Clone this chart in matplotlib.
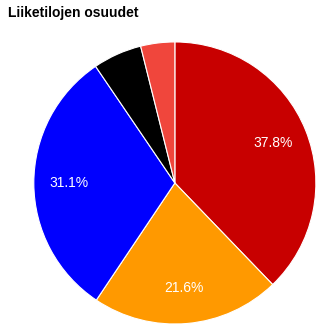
import matplotlib
matplotlib.use('Agg')
import matplotlib.pyplot as plt

labels = ['A', 'B', 'C', 'D', 'E']
values = [37.8, 21.6, 31.1, 5.6, 3.9]
colors = ['#c80000', '#ff9900', '#0000ff', '#000000', '#f0463c']

plt.rcParams['font.family'] = ['Liberation Sans', 'DejaVu Sans']

fig = plt.figure(figsize=(3.25, 3.33), dpi=100)
ax = fig.add_axes([0.104, 0.027, 0.868, 0.847])

def fmt(p):
    return '%.1f%%' % p if p > 8 else ''

ax.pie(values, colors=colors, startangle=90, counterclock=False,
       autopct=fmt, pctdistance=0.75,
       wedgeprops={'edgecolor': 'white', 'linewidth': 0.8},
       textprops={'color': 'white', 'fontsize': 10})
ax.set_xlim(-1, 1)
ax.set_ylim(-1, 1)
ax.set_aspect('equal')

fig.text(0.025, 0.962, 'Liiketilojen osuudet', fontsize=10, fontweight='bold',
         ha='left', va='center')

fig.savefig('out.png', dpi=100)
